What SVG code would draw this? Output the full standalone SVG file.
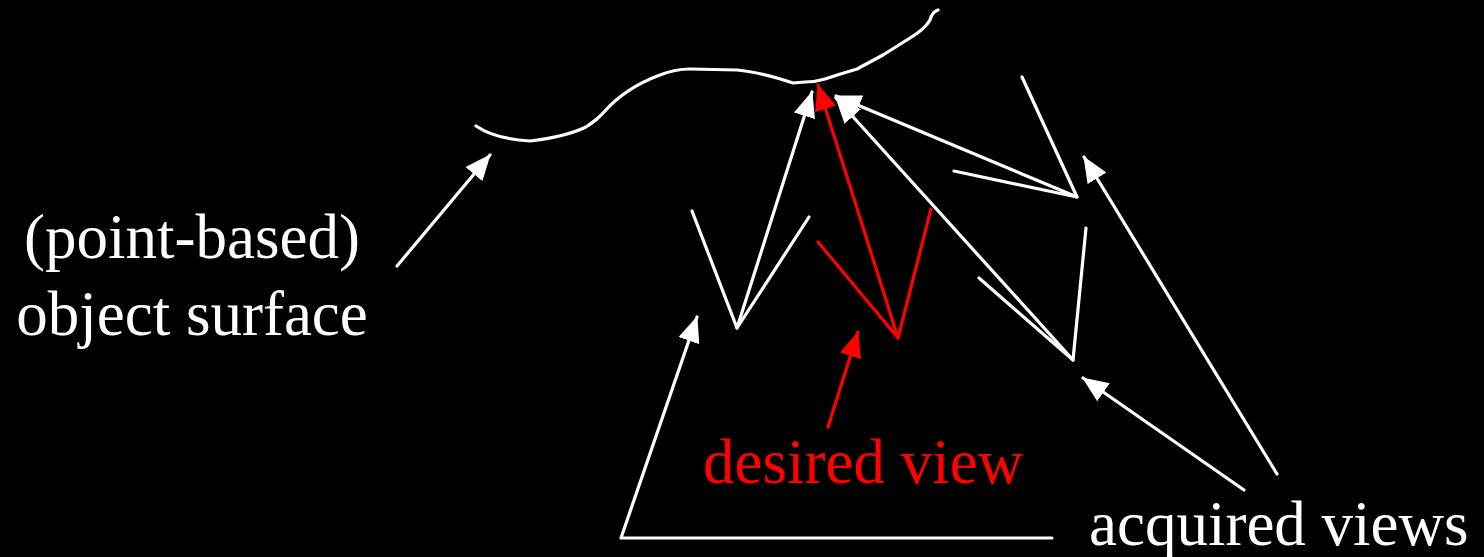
<svg xmlns="http://www.w3.org/2000/svg" width="1484" height="557" viewBox="0 0 1484 557">
<style>
.w{stroke:#fff;stroke-width:3.2;fill:none;stroke-linecap:round;stroke-linejoin:round}
.r{stroke:#f00;stroke-width:3.2;fill:none;stroke-linecap:round;stroke-linejoin:round}
text{font-family:'Liberation Serif','Times New Roman','DejaVu Serif',serif;font-size:63px}
</style>
<defs>
<marker id="aw" viewBox="0 0 26 22" markerWidth="26" markerHeight="22" refX="25" refY="11" orient="auto" markerUnits="userSpaceOnUse"><path d="M0,0 L26,11 L0,22 z" fill="#fff"/></marker>
<marker id="ar" viewBox="0 0 26 22" markerWidth="26" markerHeight="22" refX="25" refY="11" orient="auto" markerUnits="userSpaceOnUse"><path d="M0,0 L26,11 L0,22 z" fill="#f00"/></marker>
</defs>
<rect width="1484" height="557" fill="#000"/>
<g id="surface">
<path class="w" d="M476,126 Q495,139 530,141 Q565,137 586,127 Q598,119 604,112 Q625,88 660,75 Q675,69 690,69 L737,70 Q760,72 793,83 L805,82 Q815,82 825,79 Q840,74 857,69 Q870,62 883,55 L910,38 Q925,29 930,20 Q932,12 938,10"/>
<path class="w" d="M589,125 L597,119"/>
</g>
<g id="view-left">
<polyline class="w" points="692,211 737,328 809,217"/>
</g>
<g id="view-desired">
<polyline class="r" points="818,242 898,338 931,209"/>
</g>
<g id="view-right-upper">
<polyline class="w" points="954,171 1077,197 1022,77"/>
</g>
<g id="view-right-lower">
<polyline class="w" points="979,278 1073,360 1086,228"/>
</g>
<g id="labels">
<text font-family="Liberation Serif, serif" x="192" y="258" fill="#fff" text-anchor="middle">(point-based)</text>
<text font-family="Liberation Serif, serif" x="192" y="335" fill="#fff" text-anchor="middle">object surface</text>
<text font-family="Liberation Serif, serif" x="703" y="483" fill="#f00">desired view</text>
<text font-family="Liberation Serif, serif" x="1089" y="545" fill="#fff">acquired views</text>
</g>
<g id="connectors">
<line class="w" x1="737" y1="328" x2="812" y2="92" marker-end="url(#aw)"/>
<line class="w" x1="1077" y1="197" x2="836" y2="96" marker-end="url(#aw)"/>
<line class="w" x1="1073" y1="360" x2="836" y2="98" marker-end="url(#aw)"/>
<line class="r" x1="898" y1="338" x2="818" y2="85" marker-end="url(#ar)"/>
<line class="w" x1="397" y1="266" x2="490" y2="155" marker-end="url(#aw)"/>
<line class="r" x1="828" y1="427" x2="858" y2="332" marker-end="url(#ar)"/>
<polyline class="w" points="1052,538 621,538 697,317" marker-end="url(#aw)"/>
<line class="w" x1="1244" y1="490" x2="1083" y2="378" marker-end="url(#aw)"/>
<line class="w" x1="1277" y1="474" x2="1084" y2="157" marker-end="url(#aw)"/>
</g>
</svg>
